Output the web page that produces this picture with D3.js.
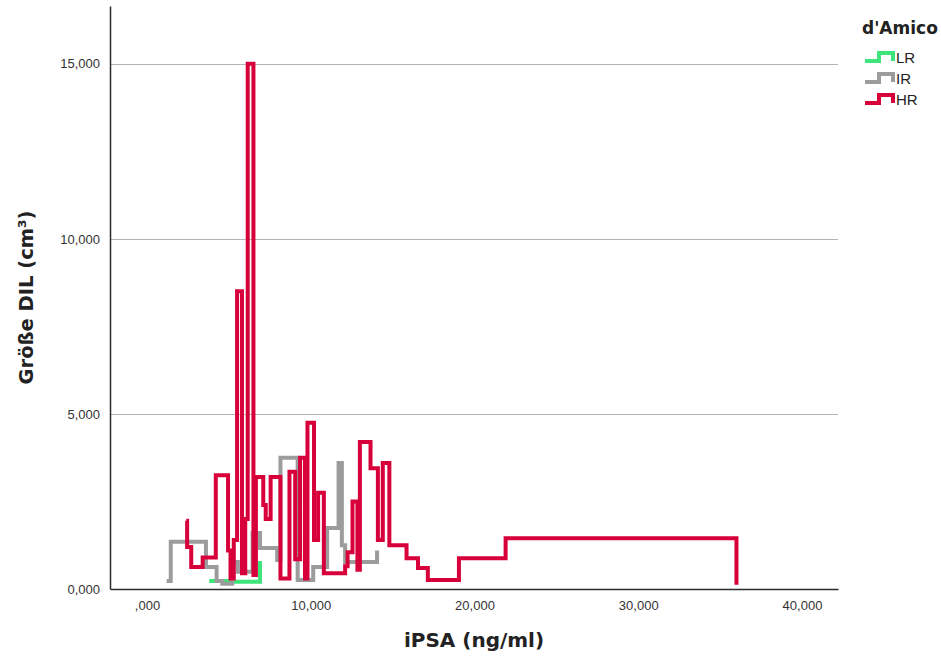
<!DOCTYPE html>
<html>
<head>
<meta charset="utf-8">
<script src="https://cdnjs.cloudflare.com/ajax/libs/d3/7.8.5/d3.min.js"></script>
<style>
body { margin: 0; background: #fff; }
svg { display: block; font-family: "Liberation Sans", Arial, sans-serif; }
</style>
</head>
<body>
<svg></svg>
<script>
// d'Amico risk groups, step lines of DIL size against iPSA
var groups = ["LR", "IR", "HR"];
var groupColors = ["#3de57a", "#9c9c9c", "#d8003a"];

var lrPsa = [3.80, 5.20, 6.90];
var lrDil = [0.23, 0.21, 0.80];

var irPsa = [1.20, 1.45, 3.60, 4.25, 4.60, 5.20, 5.55, 6.45, 6.90, 7.95, 8.15, 9.20, 10.15, 11.00, 11.70, 11.90, 12.10, 14.05];
var irDil = [0.23, 1.35, 0.63, 0.23, 0.15, 0.77, 0.49, 1.60, 1.17, 0.83, 3.75, 0.26, 0.63, 1.74, 3.60, 1.25, 0.77, 1.10];

var hrPsa = [2.40, 2.45, 2.70, 3.40, 4.20, 4.95, 5.10, 5.30, 5.50, 5.80, 6.00, 6.15, 6.50, 6.65, 7.10, 7.25, 7.55, 8.15, 8.70, 9.05,
    9.35, 9.65, 9.80, 10.20, 10.45, 10.80, 12.10, 12.25, 12.55, 12.85, 13.00, 13.65, 14.10, 14.40, 14.80, 15.85, 16.55, 17.15, 19.05, 21.90, 36.00];
var hrDil = [1.95, 1.20, 0.63, 0.90, 3.25, 1.10, 0.30, 1.40, 8.50, 0.45, 2.00, 15.00, 0.40, 3.20, 2.40, 2.00, 3.20, 0.30, 3.35, 0.85,
    3.75, 0.30, 4.75, 1.40, 2.75, 0.45, 0.65, 1.05, 2.50, 0.55, 4.20, 3.45, 1.40, 3.60, 1.25, 0.88, 0.60, 0.26, 0.88, 1.45, 0.12];

var xTicks = [0, 10, 20, 30, 40];
var yTicks = [0, 5, 10, 15];

var width = 941;
var height = 658;
var margin = {
    top: 6,
    right: 103,
    bottom: 69,
    left: 110
};
var plotW = width - margin.left - margin.right;
var plotH = height - margin.top - margin.bottom;
var titleFont = "DejaVu Sans, Verdana, sans-serif";

var de = d3.formatLocale({ decimal: ",", thousands: ".", grouping: [3], currency: ["", " €"] });
var fmt = de.format(".3f");

var svg = d3.select("svg")
    .attr("width", width)
    .attr("height", height);

var g = svg.append("g")
    .attr("transform", "translate(" + margin.left + "," + margin.top + ")");

var x_scale = d3.scaleLinear().domain([-2.26, 42.2]).range([0, plotW]);
var y_scale = d3.scaleLinear().domain([0, 16.65]).range([plotH, 0]);

// grid lines
g.append("g")
    .selectAll("line")
    .data(yTicks.filter(function(d) { return d > 0; }))
    .enter().append("line")
    .attr("x1", 0)
    .attr("x2", plotW)
    .attr("y1", function(d) { return Math.round(y_scale(d)) + 0.5; })
    .attr("y2", function(d) { return Math.round(y_scale(d)) + 0.5; })
    .attr("stroke", "#b4b4b4")
    .attr("stroke-width", 1);

var x_axis = d3.axisBottom(x_scale)
    .tickValues(xTicks)
    .tickSize(0)
    .tickPadding(12)
    .tickFormat(function(d) { return fmt(d).replace(/^0,/, ","); });

var y_axis = d3.axisLeft(y_scale)
    .tickValues(yTicks)
    .tickSize(0)
    .tickPadding(10)
    .tickFormat(fmt);

g.append("g")
    .attr("class", "x axis")
    .attr("transform", "translate(0," + plotH + ")")
    .call(x_axis);

g.append("g")
    .attr("class", "y axis")
    .call(y_axis);

g.selectAll(".axis text")
    .attr("font-size", 13)
    .attr("font-family", "Liberation Sans, Arial, sans-serif")
    .attr("fill", "#333");
g.selectAll(".axis .domain")
    .attr("stroke", "#2b2b2b")
    .attr("stroke-width", 1.5);

// series
var series = [
    { name: groups[0], psa: lrPsa, dil: lrDil },
    { name: groups[1], psa: irPsa, dil: irDil },
    { name: groups[2], psa: hrPsa, dil: hrDil }
];

var line = d3.line()
    .curve(d3.curveStepAfter)
    .x(function(d) { return x_scale(d[0]); })
    .y(function(d) { return y_scale(d[1]); });

series.forEach(function(s, i) {
    var pts = s.psa.map(function(v, k) { return [v, s.dil[k]]; });
    g.append("path")
        .datum(pts)
        .attr("fill", "none")
        .attr("stroke", groupColors[i])
        .attr("stroke-width", 4)
        .attr("stroke-linejoin", "miter")
        .attr("d", line);
});

// axis titles
svg.append("text")
    .attr("x", margin.left + plotW / 2)
    .attr("y", 647)
    .attr("text-anchor", "middle")
    .attr("font-family", titleFont)
    .attr("font-size", 20)
    .attr("font-weight", "bold")
    .attr("fill", "#222")
    .text("iPSA (ng/ml)");

svg.append("text")
    .attr("transform", "translate(33," + (margin.top + plotH / 2) + ") rotate(-90)")
    .attr("text-anchor", "middle")
    .attr("font-family", titleFont)
    .attr("font-size", 19.5)
    .attr("font-weight", "bold")
    .attr("fill", "#222")
    .text("Größe DIL (cm³)");

// legend
var legend = svg.append("g").attr("transform", "translate(862,0)");
legend.append("text")
    .attr("x", 0)
    .attr("y", 34)
    .attr("font-family", titleFont)
    .attr("font-size", 17)
    .attr("font-weight", "bold")
    .attr("fill", "#222")
    .text("d'Amico");

var items = legend.selectAll(".item")
    .data(groups)
    .enter().append("g")
    .attr("class", "item")
    .attr("transform", function(d, i) { return "translate(0," + (57 + i * 21) + ")"; });

items.append("path")
    .attr("d", "M3,4H17V-4H31V4")
    .attr("fill", "none")
    .attr("stroke", function(d, i) { return groupColors[i]; })
    .attr("stroke-width", 4);

items.append("text")
    .attr("x", 34)
    .attr("y", 6)
    .attr("font-size", 15)
    .attr("fill", "#222")
    .text(function(d) { return d; });
</script>
</body>
</html>
